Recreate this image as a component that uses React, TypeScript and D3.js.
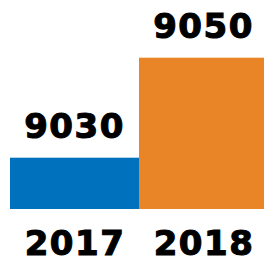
import React, { useEffect, useRef } from 'react';
import * as d3 from 'd3';

const years = ['2017', '2018'];
const values = [9030, 9050];
const colors = ['#0071bc', '#e98526'];

const W = 264;
const H = 257;

const App = () => {
  const svgRef = useRef<SVGSVGElement | null>(null);

  useEffect(() => {
    const svg = d3.select(svgRef.current);
    svg.selectAll('*').remove();

    const x = d3.scaleBand<string>().domain(years).range([10, 268]).paddingInner(0).paddingOuter(0);
    // value axis doesn't start at zero in the original
    const y = d3.scaleLinear().domain([9019.74, 9050]).range([209, 57.7]);

    const data = years.map((yr, i) => ({ yr, v: values[i], c: colors[i] }));

    svg.selectAll('.bar')
      .data(data)
      .enter().append('rect')
      .attr('class', 'bar')
      .attr('x', d => x(d.yr)!)
      .attr('y', d => y(d.v))
      .attr('width', x.bandwidth())
      .attr('height', d => y(9019.74) - y(d.v))
      .style('fill', d => d.c);

    const font = '"DejaVu Sans", sans-serif';

    const styleText = (sel: any) => sel
      .attr('text-anchor', 'middle')
      .style('font-family', font)
      .style('font-weight', 'bold')
      .style('font-size', '34px')
      .style('letter-spacing', '1.5px')
      .style('fill', '#000')
      .style('stroke', '#000')
      .style('stroke-width', 1.1);

    // value labels
    svg.selectAll('.val')
      .data(data)
      .enter().append('text')
      .attr('class', 'val')
      .attr('x', d => x(d.yr)! + 64.5)
      .attr('y', d => y(d.v) - 19.5)
      .call(styleText)
      .text(d => d.v);

    // year labels
    svg.selectAll('.yr')
      .data(data)
      .enter().append('text')
      .attr('class', 'yr')
      .attr('x', d => x(d.yr)! + 65)
      .attr('y', 255)
      .call(styleText)
      .text(d => d.yr);
  }, []);

  return (
    <svg ref={svgRef} width={W} height={H} style={{ position: 'absolute', left: 0, top: 0, background: '#fff' }}></svg>
  );
};

export default App;
